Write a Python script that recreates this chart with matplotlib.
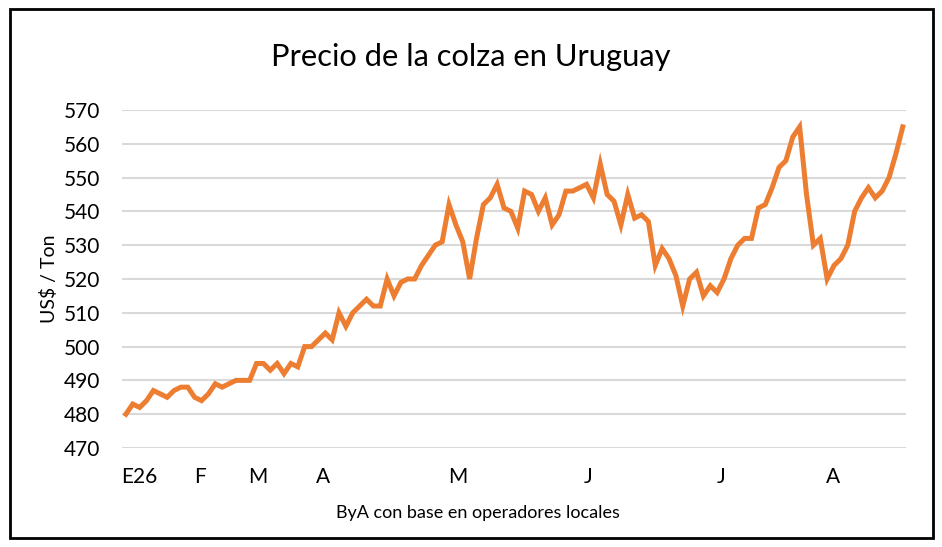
import matplotlib
matplotlib.use("Agg")
import matplotlib.pyplot as plt
from matplotlib.patches import Rectangle

plt.rcParams["font.family"] = ["Lato", "DejaVu Sans"]

# Precio de la colza (US$/Ton), serie desde enero 2026
precio = [480, 483, 482, 484, 487, 486, 485, 487, 488, 488,
          485, 484, 486, 489, 488, 489, 490, 490, 490, 495,
          495, 493, 495, 492, 495, 494, 500, 500, 502, 504,
          502, 510, 506, 510, 512, 514, 512, 512, 520, 515,
          519, 520, 520, 524, 527, 530, 531, 542, 536, 531,
          520, 532, 542, 544, 548, 541, 540, 535, 546, 545,
          540, 544, 536, 539, 546, 546, 547, 548, 544, 554,
          545, 543, 536, 545, 538, 539, 537, 524, 529, 526,
          521, 512, 520, 522, 515, 518, 516, 520, 526, 530,
          532, 532, 541, 542, 547, 553, 555, 562, 565, 545,
          530, 532, 520, 524, 526, 530, 540, 544, 547, 544,
          546, 550, 557, 565]

meses = ["E26", "F", "M", "A", "M", "J", "J", "A"]
pos_meses = [1.9, 10.8, 19.2, 28.7, 48.2, 67.3, 86.6, 102.8]
y_ticks = list(range(470, 571, 10))

fig = plt.figure(figsize=(9.42, 5.47), dpi=100)
ax = fig.add_axes([0.130, 0.181, 0.832, 0.618])

x = list(range(len(precio)))
ax.plot(x, precio, color="#ED7D31", linewidth=3.6, solid_joinstyle="miter")

ax.set_xlim(-0.5, len(precio) - 0.5)
ax.set_ylim(470, 570)
ax.set_yticks(y_ticks)
ax.set_xticks(pos_meses)
ax.set_xticklabels(meses)
ax.grid(axis="y", color="#D9D9D9", linewidth=1.5)
ax.set_axisbelow(True)
for s in ax.spines.values():
    s.set_visible(False)
ax.tick_params(length=0, labelsize=15, colors="#000000")
ax.tick_params(axis="y", pad=16)
ax.tick_params(axis="x", pad=14)

ax.set_ylabel("US$ / Ton", fontsize=14, labelpad=4)
fig.text(0.5, 0.895, "Precio de la colza en Uruguay", ha="center", va="center", fontsize=22.2)
fig.text(0.507, 0.062, "ByA con base en operadores locales", ha="center", va="center", fontsize=13)

fig.patches.append(Rectangle((0.011, 0.016), 0.979, 0.968, transform=fig.transFigure,
                             fill=False, edgecolor="black", linewidth=2))

fig.savefig("out.png", dpi=100)
